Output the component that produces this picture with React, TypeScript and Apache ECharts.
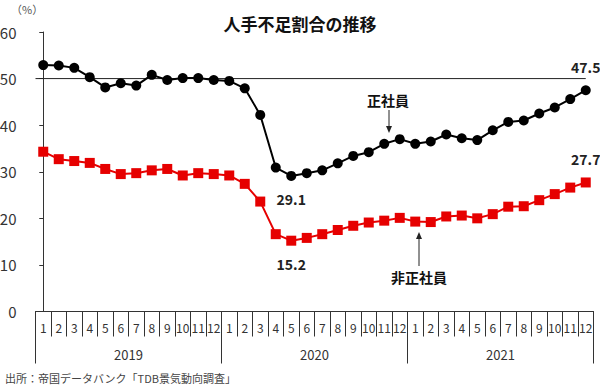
import React, { useEffect, useRef } from "react";
import * as echarts from "echarts";

const monthLabels = [
  "1","2","3","4","5","6","7","8","9","10","11","12",
  "1","2","3","4","5","6","7","8","9","10","11","12",
  "1","2","3","4","5","6","7","8","9","10","11","12",
];
const yearLabels = ["2019", "2020", "2021"];
const regularStaff = [
  52.9, 52.8, 52.3, 50.3, 48.1, 49.0, 48.5, 50.8, 49.7, 50.1, 50.1, 49.7,
  49.5, 47.9, 42.2, 30.9, 29.1, 29.7, 30.3, 31.8, 33.4, 34.2, 36.0, 37.0,
  36.0, 36.5, 38.0, 37.2, 36.8, 38.9, 40.7, 41.0, 42.5, 43.8, 45.6, 47.5,
];
const nonRegularStaff = [
  34.3, 32.7, 32.3, 31.9, 30.6, 29.5, 29.7, 30.3, 30.6, 29.2, 29.7, 29.5,
  29.2, 27.4, 23.6, 16.6, 15.2, 15.8, 16.6, 17.5, 18.4, 19.1, 19.5, 20.1,
  19.3, 19.2, 20.4, 20.6, 20.0, 20.9, 22.5, 22.6, 23.9, 25.2, 26.6, 27.7,
];
const labelledIndices = [16, 35];
const referenceLine = [
  [-0.5, 50],
  [35, 50],
];
const yTicks = { min: 0, max: 60, interval: 10 };

const FONT = "'Noto Sans CJK JP', 'Noto Sans', sans-serif";

function buildData(values: number[], pos: "top" | "bottom") {
  return values.map((v, i) =>
    labelledIndices.includes(i)
      ? {
          value: v,
          label: {
            show: true,
            position: i === 16 ? "bottom" : "top",
            distance: 11,
            formatter: v.toFixed(1),
            fontFamily: FONT,
            fontWeight: "bold",
            fontSize: 14,
            color: "#222",
          },
        }
      : v
  );
}

export default function App() {
  const ref = useRef<HTMLDivElement>(null);
  useEffect(() => {
    if (!ref.current) return;
    const chart = echarts.init(ref.current, null, { renderer: "svg" });
    const arrow = (x: number, y1: number, y2: number) => {
      const dir = y2 > y1 ? 1 : -1;
      return [
        { type: "line", shape: { x1: x, y1, x2: x, y2: y2 - dir * 5 }, style: { stroke: "#222", lineWidth: 1 } },
        {
          type: "polygon",
          shape: { points: [[x - 3, y2 - dir * 7], [x + 3, y2 - dir * 7], [x, y2]] },
          style: { fill: "#222" },
        },
      ];
    };
    chart.setOption({
      animation: false,
      backgroundColor: "#fff",
      title: {
        text: "人手不足割合の推移",
        left: "center",
        top: 10,
        textStyle: { fontFamily: FONT, fontSize: 17, fontWeight: "bold", color: "#111" },
      },
      grid: { left: 35.5, right: 6.5, top: 32, bottom: 80.5, outerBoundsMode: "none" },
      xAxis: [
        {
          type: "category",
          data: monthLabels,
          position: "bottom",
          boundaryGap: true,
          axisLine: { show: true, lineStyle: { color: "#333", width: 1 } },
          axisTick: { show: true, interval: 0, length: 25, lineStyle: { color: "#333" } },
          axisLabel: { interval: 0, margin: 10, fontFamily: FONT, fontSize: 12, color: "#333" },
          splitLine: { show: false },
        },
        {
          type: "category",
          data: yearLabels,
          position: "bottom",
          boundaryGap: true,
          axisLine: { show: false },
          axisTick: { show: true, interval: 0, length: 52, lineStyle: { color: "#333" } },
          axisLabel: { interval: 0, margin: 36, fontFamily: FONT, fontSize: 13, color: "#333" },
          splitLine: { show: false },
        },
        {
          type: "value",
          position: "bottom",
          min: -0.5,
          max: 35.5,
          show: false,
          splitLine: { show: false },
        },
      ],
      yAxis: {
        type: "value",
        min: yTicks.min,
        max: yTicks.max,
        interval: yTicks.interval,
        axisLine: { show: true, lineStyle: { color: "#333", width: 1 } },
        axisTick: { show: true, length: 4, lineStyle: { color: "#333" } },
        axisLabel: { margin: 19, fontFamily: FONT, fontSize: 15, color: "#333" },
        splitLine: { show: false },
      },
      series: [
        {
          name: "基準線",
          type: "line",
          xAxisIndex: 2,
          data: referenceLine,
          symbol: "none",
          lineStyle: { color: "#222", width: 1 },
          silent: true,
          z: 1,
        },
        {
          name: "非正社員",
          type: "line",
          data: buildData(nonRegularStaff, "bottom"),
          symbol: "rect",
          symbolSize: 10,
          itemStyle: { color: "#e60000" },
          lineStyle: { color: "#e60000", width: 2 },
          z: 3,
        },
        {
          name: "正社員",
          type: "line",
          data: buildData(regularStaff, "top"),
          symbol: "circle",
          symbolSize: 10,
          itemStyle: { color: "#000" },
          lineStyle: { color: "#000", width: 2 },
          z: 4,
        },
      ],
      graphic: [
        {
          type: "text",
          left: 11,
          top: 3,
          style: { text: "（%）", fontFamily: FONT, fontSize: 11, fill: "#555" },
        },
        {
          type: "text",
          x: 388,
          y: 100,
          style: {
            text: "正社員",
            fontFamily: FONT,
            fontSize: 14,
            fontWeight: "bold",
            fill: "#111",
            align: "center",
            verticalAlign: "middle",
          },
        },
        ...arrow(389, 110, 133),
        {
          type: "text",
          x: 419,
          y: 277,
          style: {
            text: "非正社員",
            fontFamily: FONT,
            fontSize: 14,
            fontWeight: "bold",
            fill: "#111",
            align: "center",
            verticalAlign: "middle",
          },
        },
        ...arrow(419, 266, 232),
        {
          type: "text",
          left: 5,
          top: 372,
          style: { text: "出所：帝国データバンク「TDB景気動向調査」", fontFamily: FONT, fontSize: 11, fill: "#444" },
        },
      ],
    });
    return () => chart.dispose();
  }, []);
  return (
    <div
      ref={ref}
      style={{ position: "fixed", left: 0, top: 0, width: 600, height: 392 }}
    />
  );
}
